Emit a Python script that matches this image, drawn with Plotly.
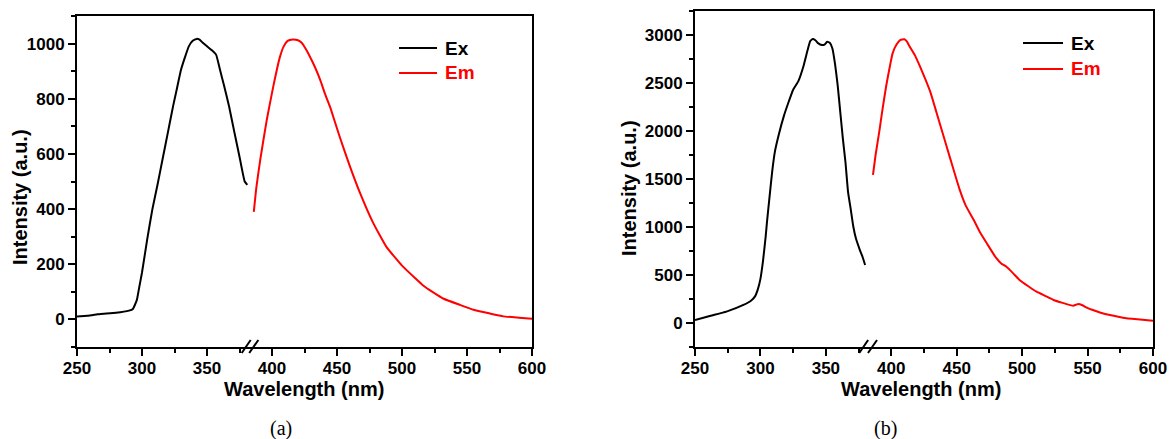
import plotly.graph_objects as go

# ---------------- data ----------------
ex_a_wl = [250, 258, 265, 268, 280, 290, 293, 296, 298, 300, 304, 308, 312, 316, 320, 324,
           327, 330, 333, 336, 339, 342, 344, 347, 350, 354, 357, 360, 363, 367, 371, 375, 379, 381]
ex_a_int = [11, 13, 18, 20, 24, 32, 38, 70, 120, 170, 290, 400, 490, 585, 680, 775,
            840, 905, 950, 990, 1010, 1017, 1015, 1002, 990, 975, 960, 905, 850, 772, 680, 590, 500, 488]

em_a_wl = [386, 388, 391, 396, 401, 406, 409, 412, 416, 420, 423, 426, 429, 433, 437, 441, 445,
           452, 460, 468, 478, 488, 500, 510, 516, 524, 532, 545, 555, 567, 578, 590, 600]
em_a_int = [390, 480, 580, 724, 845, 950, 990, 1010, 1015, 1012, 1002, 980, 954, 915, 869, 815, 766,
            663, 554, 455, 348, 263, 195, 150, 124, 98, 75, 52, 35, 22, 11, 6, 2]

ex_b_wl = [250, 262, 274, 287, 293, 296, 298, 300, 302, 304, 305, 307, 309, 311, 314, 318, 322,
           325, 329, 333, 336, 338, 340, 342, 344, 347, 349, 351, 353, 355, 357, 359, 361, 363,
           365, 367, 369, 371, 373, 376, 378, 380]
ex_b_int = [31, 75, 118, 188, 235, 280, 350, 460, 650, 900, 1050, 1320, 1580, 1780, 1960, 2160, 2320,
            2430, 2520, 2680, 2840, 2935, 2958, 2945, 2915, 2895, 2900, 2930, 2920, 2860, 2700, 2480, 2200, 1920,
            1672, 1360, 1186, 1003, 880, 760, 690, 604]

em_b_wl = [386, 388, 391, 393, 396, 399, 401, 404, 407, 410, 412, 414, 418, 422, 426, 430, 437,
           445, 452, 457, 463, 468, 473, 480, 484, 488, 493, 498, 505, 511, 518, 524, 531, 539,
           541, 543, 546, 549, 554, 560, 568, 577, 588, 600]
em_b_int = [1542, 1750, 2010, 2200, 2461, 2680, 2809, 2900, 2950, 2955, 2930, 2880, 2790, 2670, 2540, 2400, 2080,
            1715, 1400, 1220, 1073, 940, 830, 680, 620, 586, 520, 448, 380, 326, 280, 240, 210, 180,
            190, 198, 185, 163, 135, 107, 80, 55, 38, 24]

x_ticks = [250, 300, 350, 400, 450, 500, 550, 600]
y_ticks_a = [0, 200, 400, 600, 800, 1000]
y_ticks_b = [0, 500, 1000, 1500, 2000, 2500, 3000]
series_names = ["Ex", "Em"]
series_colors = ["#000000", "#ff0000"]

W, H = 1169, 439


def px(x):
    return x / W


def py(y):
    return 1 - y / H


fig = go.Figure()
for xs, ys, c, xa, ya in [
    (ex_a_wl, ex_a_int, series_colors[0], "x", "y"),
    (em_a_wl, em_a_int, series_colors[1], "x", "y"),
    (ex_b_wl, ex_b_int, series_colors[0], "x2", "y2"),
    (em_b_wl, em_b_int, series_colors[1], "x2", "y2"),
]:
    fig.add_trace(go.Scatter(x=xs, y=ys, mode="lines", xaxis=xa, yaxis=ya,
                             line=dict(color=c, width=2, shape="spline", smoothing=0.4),
                             showlegend=False, hoverinfo="skip"))

tickfont = dict(family="Liberation Sans, Arial, sans-serif", size=17, color="black", weight="bold")
common_axis = dict(showgrid=False, zeroline=False, showline=True, linecolor="black", linewidth=2,
                   mirror=True, ticks="outside", ticklen=7, tickwidth=2, tickcolor="black",
                   tickfont=tickfont, automargin=False)
minor_common = dict(ticks="outside", ticklen=4, tickwidth=2, tickcolor="black")

fig.update_layout(
    width=W, height=H, margin=dict(l=0, r=0, t=0, b=0),
    paper_bgcolor="white", plot_bgcolor="white",
    xaxis=dict(domain=[px(77), px(532)], range=[250, 600], tickvals=x_ticks, anchor="y",
               ticklabelstandoff=-2,
               minor=dict(tick0=275, dtick=50, **minor_common), **common_axis),
    yaxis=dict(domain=[py(347), py(16)], range=[-100, 1100], tickvals=y_ticks_a, anchor="x",
               minor=dict(tick0=-100, dtick=200, **minor_common), **common_axis),
    xaxis2=dict(domain=[px(695), px(1153)], range=[250, 600], tickvals=x_ticks, anchor="y2",
                ticklabelstandoff=-2,
                minor=dict(tick0=275, dtick=50, **minor_common), **common_axis),
    yaxis2=dict(domain=[py(347), py(11)], range=[-250, 3250], tickvals=y_ticks_b, anchor="x2",
                minor=dict(tick0=-250, dtick=500, **minor_common), **common_axis),
)

titlefont = dict(family="Liberation Sans, Arial, sans-serif", size=20, color="black", weight="bold")
capfont = dict(family="Liberation Serif, Times New Roman, serif", size=20, color="black")
annots = [
    dict(x=px(20), y=py(197), text="Intensity (a.u.)", textangle=-90, font=titlefont),
    dict(x=px(629), y=py(188), text="Intensity (a.u.)", textangle=-90, font=titlefont),
    dict(x=px(304), y=py(389), text="Wavelength (nm)", font=titlefont),
    dict(x=px(921), y=py(389), text="Wavelength (nm)", font=titlefont),
    dict(x=px(281), y=py(428), text="(a)", font=capfont),
    dict(x=px(885), y=py(428), text="(b)", font=capfont),
]
for a in annots:
    a.update(xref="paper", yref="paper", showarrow=False, xanchor="center", yanchor="middle")
    fig.add_annotation(**a)

# legends (drawn manually)
legfont = dict(family="Liberation Sans, Arial, sans-serif", size=19, weight="bold")
for (x0, x1, tx, ys) in [(399, 437, 443, [48, 73]), (1023, 1063, 1069, [43, 69])]:
    for name, col, yy in zip(series_names, series_colors, ys):
        fig.add_shape(type="line", xref="paper", yref="paper", x0=px(x0), x1=px(x1), y0=py(yy), y1=py(yy),
                      line=dict(color=col, width=2))
        fig.add_annotation(xref="paper", yref="paper", x=px(tx), y=py(yy), text=name, showarrow=False,
                           xanchor="left", yanchor="middle", font=dict(color=col, **legfont))

# axis break marks "//"
for xr, pairs in [("x", [(376.7, 383.6), (382.5, 389.5)]), ("x2", [(375.5, 382.3), (382.2, 389.1)])]:
    for a, b in pairs:
        fig.add_shape(type="line", xref=xr, yref="paper", x0=a, x1=b, y0=py(353), y1=py(340),
                      line=dict(color="black", width=2))

fig.write_html("out.html")
